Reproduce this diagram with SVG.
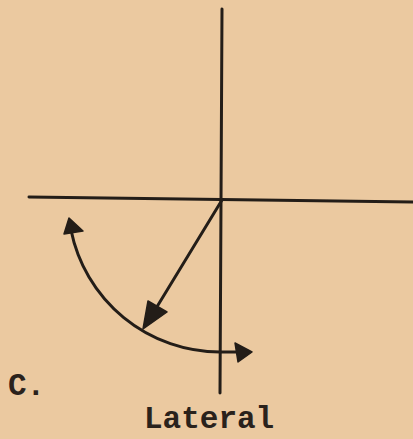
<svg xmlns="http://www.w3.org/2000/svg" width="413" height="439" viewBox="0 0 413 439">
<style>
.ln{stroke:#231d18;stroke-width:3;fill:none;stroke-linecap:round}
.ah{fill:#231d18;stroke:#231d18;stroke-width:1.5;stroke-linejoin:round}
.t{font-family:"Liberation Mono","DejaVu Sans Mono",monospace;font-weight:bold;fill:#2a221c}
</style>
<rect width="413" height="439" fill="#ebc9a0"/>
<g id="axes">
<line class="ln" x1="29" y1="197" x2="413" y2="202"/>
<line class="ln" x1="222" y1="9" x2="220" y2="393"/>
</g>
<g id="connectors">
<line class="ln" x1="222" y1="200" x2="155" y2="310"/>
<polygon class="ah" points="143,329 148,301 167,312"/>
<path class="ln" d="M 71,230 A 152 152 0 0 0 220,352 L 240,352"/>
<polygon class="ah" points="69,218 64,234 83,231"/>
<polygon class="ah" points="252,352 235,343 238,362"/>
</g>
<g id="labels">
<text class="t" x="8" y="395" font-size="31">C.</text>
<text class="t" x="144" y="428" font-size="31">Lateral</text>
</g>
</svg>
